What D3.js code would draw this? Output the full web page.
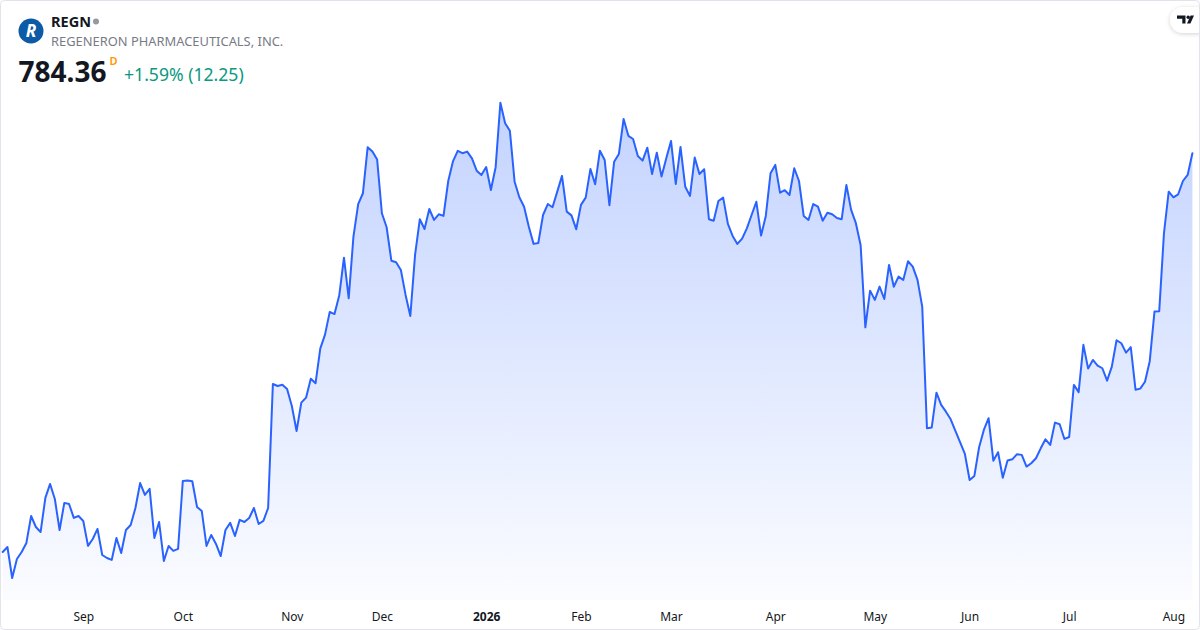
<!DOCTYPE html>
<html>
<head>
<meta charset="utf-8">
<script src="https://cdn.jsdelivr.net/npm/d3@7"></script>
<style>
  html, body { margin: 0; padding: 0; background: #ffffff; }
  svg { display: block; }
  text { font-family: "Noto Sans", "Open Sans", sans-serif; }
</style>
</head>
<body>
<svg id="chart" width="1200" height="630"></svg>
<script>
// ---- Data ----
const symbol = "REGN";
const companyName = "REGENERON PHARMACEUTICALS, INC.";
const lastPrice = "784.36";
const intervalTag = "D";
const changeText = "+1.59% (12.25)";

// Daily closes, one per trading day (Aug 7 2025 -> Aug 7 2026)
const closes = [
  559.3, 562.1, 544.6, 555.3, 559.3, 564.4, 579.6, 573.4, 570.6, 589.8,
  597.7, 589.2, 571.7, 587.0, 586.4, 578.5, 579.6, 576.8, 562.7, 566.6,
  572.3, 557.6, 555.9, 554.8, 567.2, 558.7, 571.7, 574.5, 584.1, 598.2,
  591.5, 594.9, 567.2, 576.2, 554.2, 562.7, 559.9, 561.0, 599.4, 599.6,
  599.2, 584.7, 582.4, 562.7, 568.9, 563.8, 557.0, 571.7, 575.7, 568.3,
  577.4, 576.2, 578.5, 584.1, 575.1, 576.8, 584.1, 654.1, 653.0, 653.7,
  651.3, 641.7, 627.6, 643.6, 646.4, 657.1, 654.5, 674.1, 682.0, 694.8,
  693.6, 704.0, 725.4, 702.5, 737.3, 755.7, 761.8, 787.8, 785.3, 780.8,
  750.5, 742.6, 723.7, 722.8, 718.5, 704.4, 692.5, 727.0, 747.1, 741.6,
  752.9, 746.7, 749.9, 749.0, 768.7, 779.8, 785.7, 784.4, 785.3, 781.5,
  774.5, 772.1, 776.6, 763.6, 776.5, 812.9, 801.3, 797.1, 768.3, 759.5,
  754.2, 742.9, 733.2, 733.7, 749.5, 755.7, 753.9, 762.7, 771.6, 751.4,
  749.3, 741.5, 755.2, 759.3, 775.5, 766.9, 785.8, 780.6, 755.0, 779.6,
  784.0, 803.7, 794.2, 792.4, 782.8, 780.2, 787.5, 772.7, 784.7, 771.2,
  781.5, 791.3, 767.0, 787.9, 765.5, 760.3, 781.9, 772.7, 775.3, 747.1,
  746.3, 757.4, 759.3, 744.5, 737.7, 733.2, 736.2, 742.0, 749.5, 757.0,
  737.9, 749.0, 773.1, 777.8, 762.1, 763.5, 760.8, 775.9, 768.7, 748.9,
  746.7, 755.7, 754.2, 746.3, 750.8, 749.9, 747.8, 747.1, 766.5, 752.4,
  744.9, 732.6, 686.1, 706.8, 701.6, 709.1, 702.1, 721.3, 709.0, 714.7,
  712.8, 723.4, 720.4, 712.9, 697.8, 629.1, 629.5, 649.2, 642.3, 638.5,
  634.2, 627.6, 621.2, 614.6, 599.9, 602.2, 618.4, 628.2, 634.8, 610.8,
  615.6, 601.2, 610.9, 611.6, 614.5, 614.1, 607.5, 609.4, 612.2, 617.8,
  622.9, 619.7, 632.3, 631.4, 623.1, 624.2, 653.6, 649.5, 676.2, 662.8,
  667.7, 664.5, 663.0, 656.0, 663.9, 678.8, 677.1, 671.8, 674.9, 650.9,
  651.5, 655.4, 667.0, 695.0, 695.2, 739.2, 762.7, 759.5, 761.2, 768.7,
  772.11, 784.36
];

// Month labels and the trading-day index where each month starts
const tickLabels = ["Sep", "Oct", "Nov", "Dec", "2026", "Feb", "Mar", "Apr", "May", "Jun", "Jul", "Aug"];
const tickIndex  = [17, 38, 61, 80, 102, 122, 141, 163, 184, 204, 225, 247];

// ---- Drawing ----
const svg = d3.select("#chart");
const W = 1200, H = 630;

const data = closes.map((v, i) => ({ i, v }));

const x = d3.scaleLinear().domain([0, closes.length - 1]).range([2.7, 1192.4]);
const y = d3.scaleLinear().domain(d3.extent(closes)).range([578, 102.7]);
const paneBottom = 600;

const defs = svg.append("defs");
const grad = defs.append("linearGradient")
  .attr("id", "areaGrad")
  .attr("gradientUnits", "userSpaceOnUse")
  .attr("x1", 0).attr("y1", 100).attr("x2", 0).attr("y2", paneBottom);
grad.append("stop").attr("offset", "0%").attr("stop-color", "#2962ff").attr("stop-opacity", 0.28);
grad.append("stop").attr("offset", "100%").attr("stop-color", "#2962ff").attr("stop-opacity", 0.02);

const shadow = defs.append("filter").attr("id", "pillShadow")
  .attr("x", "-50%").attr("y", "-50%").attr("width", "200%").attr("height", "200%");
shadow.append("feDropShadow").attr("dx", 0).attr("dy", 1).attr("stdDeviation", 2)
  .attr("flood-color", "#000").attr("flood-opacity", 0.18);

defs.append("clipPath").attr("id", "cardClip")
  .append("rect").attr("x", 1).attr("y", 1).attr("width", W - 2).attr("height", H - 2).attr("rx", 4);

// background card
svg.append("rect").attr("x", 0).attr("y", 0).attr("width", W).attr("height", H).attr("fill", "#ffffff");

const g = svg.append("g").attr("clip-path", "url(#cardClip)");

// area
const area = d3.area()
  .x(d => x(d.i))
  .y0(paneBottom)
  .y1(d => y(d.v));
g.append("path").datum(data).attr("d", area).attr("fill", "url(#areaGrad)");

// line
const line = d3.line().x(d => x(d.i)).y(d => y(d.v));
g.append("path").datum(data).attr("d", line)
  .attr("fill", "none").attr("stroke", "#2962ff").attr("stroke-width", 2)
  .attr("stroke-linejoin", "round").attr("stroke-linecap", "round");

// x axis
const axis = d3.axisBottom(x)
  .tickValues(tickIndex)
  .tickFormat((d, k) => tickLabels[k])
  .tickSize(0).tickPadding(0);
const ax = g.append("g").attr("transform", `translate(0, ${paneBottom})`).call(axis);
ax.select(".domain").remove();
ax.selectAll("text")
  .attr("y", 21).attr("dy", 0)
  .attr("fill", "#131722")
  .style("font-size", "12px")
  .style("font-family", "'Noto Sans', sans-serif")
  .style("font-weight", (d, k) => tickLabels[k] === "2026" ? "700" : "400");

// header: logo
svg.append("circle").attr("cx", 31).attr("cy", 31).attr("r", 12.5).attr("fill", "#0d5aa7");
svg.append("text").attr("x", 31).attr("y", 37).attr("text-anchor", "middle")
  .attr("fill", "#ffffff").style("font-size", "17px").style("font-weight", "700").style("font-style", "italic")
  .text("R");

svg.append("text").attr("x", 51).attr("y", 26.5)
  .attr("fill", "#131722").style("font-size", "14.5px").style("font-weight", "700")
  .text(symbol);
svg.append("circle").attr("cx", 96).attr("cy", 21.5).attr("r", 3).attr("fill", "#9598a1");

svg.append("text").attr("x", 51).attr("y", 45.5)
  .attr("fill", "#787b86").style("font-size", "12.9px")
  .text(companyName);

svg.append("text").attr("x", 18.5).attr("y", 81.5)
  .attr("fill", "#131722").style("font-size", "28px").style("font-weight", "700")
  .text(lastPrice);
svg.append("text").attr("x", 109.5).attr("y", 65)
  .attr("fill", "#ff9800").style("font-size", "11px").style("font-weight", "600")
  .text(intervalTag);
svg.append("text").attr("x", 124).attr("y", 80.5)
  .attr("fill", "#089981").style("font-size", "17.6px")
  .text(changeText);

// TradingView badge (top right)
svg.append("rect").attr("x", 1170).attr("y", 7).attr("width", 40).attr("height", 26).attr("rx", 13)
  .attr("fill", "#ffffff").attr("filter", "url(#pillShadow)");
const tv = svg.append("g").attr("fill", "#131722");
tv.append("path").attr("d", "M1177,15.5 h8.5 v8 h-3.2 v-4.8 h-5.3 z");
tv.append("circle").attr("cx", 1188.2).attr("cy", 17.2).attr("r", 1.7);
tv.append("path").attr("d", "M1190.6,15.5 h3.4 l-3.6,8 h-3.4 z");

// card border
svg.append("rect").attr("x", 0.5).attr("y", 0.5).attr("width", W - 1).attr("height", H - 1).attr("rx", 4)
  .attr("fill", "none").attr("stroke", "#e0e3eb").attr("stroke-width", 1);
</script>
</body>
</html>
